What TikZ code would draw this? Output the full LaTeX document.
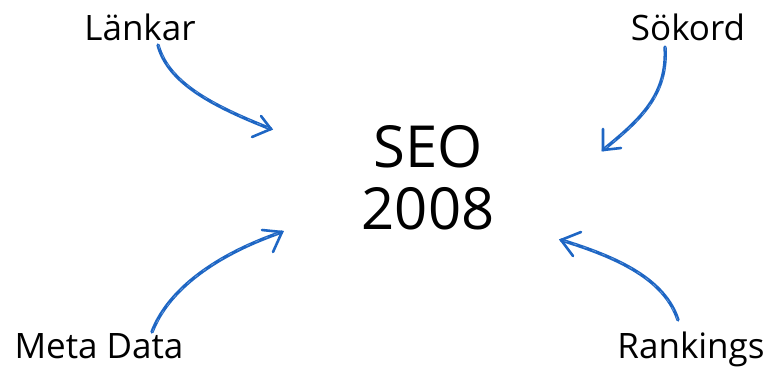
\documentclass[tikz,border=0pt]{standalone}
\usepackage{fontspec}
\setmainfont{Open Sans}
\usetikzlibrary{calc}
\definecolor{pen}{RGB}{30,102,196}
\begin{document}
\begin{tikzpicture}[x=1pt,y=-1pt,
  lbl/.style={font=\fontsize{35}{40}\selectfont, inner sep=0pt, anchor=base, text=black},
  big/.style={font=\fontsize{58}{62}\selectfont, inner sep=0pt, align=center, text=black},
  stroke/.style={draw=pen, line width=3.4pt, line cap=round, line join=round},
  grain/.style={draw=white, opacity=0.4, line width=0.5pt, dash pattern=on 4pt off 6pt},
  head/.style={draw=pen, line width=2.6pt, line cap=round, line join=miter}]
\useasboundingbox (0,0) rectangle (770,368);
\fill[white] (0,0) rectangle (770,368);

\node[lbl] (lank) at (140,40) {Länkar};
\node[lbl] (sok) at (688,40) {Sökord};
\node[lbl] (meta) at (99,358) {Meta Data};
\node[lbl] (rank) at (691,358) {Rankings};
\node[big] (seo) at (428,178) {SEO\\2008};

% start and tip points
\coordinate (ls) at (158,45);  \coordinate (lt) at (271,129);
\coordinate (ss) at (665,47);  \coordinate (st) at (603,150);
\coordinate (ms) at (152,332); \coordinate (mt) at (282,232);
\coordinate (rs) at (678,320); \coordinate (rt) at (561,240);

% Länkar arrow
\draw[stroke] (ls) .. controls (168,82) and (210,105) .. (lt);
\draw[grain] ([xshift=0.6pt]ls) .. controls (169,82) and (210,104) .. (lt);
\draw[head] (261,116) -- (lt) -- (252,137);

% Sökord arrow
\draw[stroke] (ss) .. controls (668,95) and (640,120) .. (st);
\draw[grain] ([xshift=0.6pt]ss) .. controls (669,95) and (641,120) .. (st);
\draw[head] (603,129) -- (st) -- (621,148);

% Meta Data arrow
\draw[stroke] (ms) .. controls (168,290) and (215,255) .. (mt);
\draw[grain] ([xshift=0.6pt]ms) .. controls (169,290) and (215,254) .. (mt);
\draw[head] (262,230) -- (mt) -- (273,252);

% Rankings arrow
\draw[stroke] (rs) .. controls (665,280) and (620,258) .. (rt);
\draw[grain] ([xshift=-0.6pt]rs) .. controls (664,280) and (620,257) .. (rt);
\draw[head] (581,232) -- (rt) -- (573,256);
\end{tikzpicture}
\end{document}
